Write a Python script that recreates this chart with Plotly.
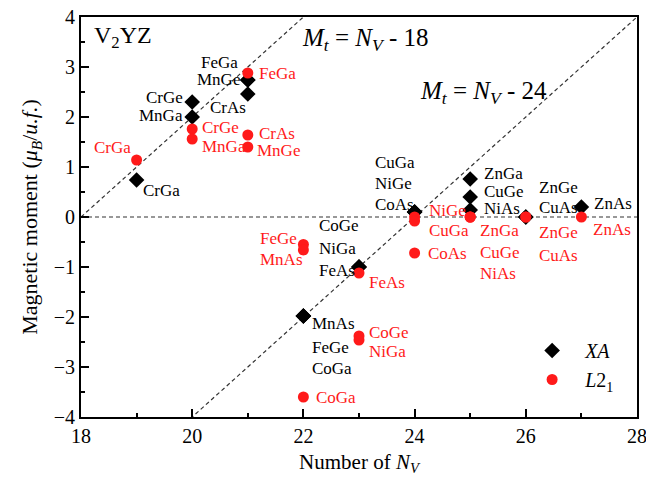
import plotly.graph_objects as go

# ---------------- data ----------------
# XA structure (black diamonds)
xa_compounds = ["CrGa", "CrGe", "MnGa", "FeGa", "MnGe", "CrAs",
                "MnAs", "FeGe", "CoGa", "CoGe", "NiGa", "FeAs",
                "CuGa", "NiGe", "CoAs", "ZnGa", "CuGe", "NiAs",
                "ZnGe", "CuAs", "ZnAs"]
xa_nv = [19, 20, 20, 21, 21, 21,
         22, 22, 22, 23, 23, 23,
         24, 24, 24, 25, 25, 25,
         26, 26, 27]
xa_mt = [0.74, 2.30, 2.00, 2.74, 2.74, 2.46,
         -1.98, -1.98, -1.98, -1.00, -1.00, -1.00,
         0.10, 0.10, 0.10, 0.76, 0.40, 0.14,
         0.00, 0.00, 0.20]

# L2_1 structure (red circles)
l21_compounds = ["CrGa", "CrGe", "MnGa", "FeGa", "CrAs", "MnGe",
                 "FeGe", "MnAs", "CoGa", "FeAs", "CoGe", "NiGa",
                 "NiGe", "CuGa", "CoAs", "ZnGa", "CuGe", "NiAs",
                 "ZnGe", "CuAs", "ZnAs"]
l21_nv = [19, 20, 20, 21, 21, 21,
          22, 22, 22, 23, 23, 23,
          24, 24, 24, 25, 25, 25,
          26, 26, 27]
l21_mt = [1.14, 1.76, 1.56, 2.88, 1.64, 1.40,
          -0.55, -0.66, -3.60, -1.12, -2.38, -2.46,
          0.00, -0.08, -0.72, 0.00, 0.00, 0.00,
          0.00, 0.00, 0.00]

# Slater-Pauling rules  Mt = Nv - offset
sp_offsets = [18, 24]
x_ticks = [18, 20, 22, 24, 26, 28]
y_ticks = [-4, -3, -2, -1, 0, 1, 2, 3, 4]

# ---------------- label placement (pixel offsets: xanchor, dx, dy-down) ----------------
xa_label_style = {
    "CrGa": ("left", 4, 10), "CrGe": ("right", -7, -5), "MnGa": ("right", -7, -2),
    "FeGa": ("right", -8, -18), "MnGe": ("right", -6, -1), "CrAs": ("right", 0, 13),
    "MnAs": ("left", 7, 7), "FeGe": ("left", 7, 31), "CoGa": ("left", 7, 52),
    "CoGe": ("left", -42, -42), "NiGa": ("left", -42, -19), "FeAs": ("left", -42, 3),
    "CuGa": ("left", -42, -50), "NiGe": ("left", -42, -29), "CoAs": ("left", -42, -8),
    "ZnGa": ("left", 12, -6), "CuGe": ("left", 12, -6), "NiAs": ("left", 12, -2),
    "ZnGe": ("left", 11, -30), "CuAs": ("left", 11, -10), "ZnAs": ("left", 11, -4),
}
l21_label_style = {
    "CrGa": ("right", -4, -13), "CrGe": ("left", 8, -2), "MnGa": ("left", 8, 7),
    "FeGa": ("left", 9, 0), "CrAs": ("left", 9, -2), "MnGe": ("left", 7, 3),
    "FeGe": ("left", -45, -6), "MnAs": ("left", -45, 9), "CoGa": ("left", 11, 0),
    "FeAs": ("left", 8, 9), "CoGe": ("left", 8, -4), "NiGa": ("left", 8, 11),
    "NiGe": ("left", 12, -7), "CuGa": ("left", 12, 9), "CoAs": ("left", 11, 0),
    "ZnGa": ("left", 8, 13), "CuGe": ("left", 8, 35), "NiAs": ("left", 8, 56),
    "ZnGe": ("left", 11, 15), "CuAs": ("left", 11, 38), "ZnAs": ("left", 10, 12),
}

FONT = "Liberation Serif"
RED = "#ff1a1a"

fig = go.Figure()

# reference lines
for off in sp_offsets:
    xs = [18, 28]
    fig.add_trace(go.Scatter(x=xs, y=[v - off for v in xs], mode="lines",
                             line=dict(color="#333333", width=1.2, dash="4px,3px"),
                             showlegend=False, hoverinfo="skip"))
fig.add_trace(go.Scatter(x=[18, 28], y=[0, 0], mode="lines",
                         line=dict(color="#333333", width=1.2, dash="4px,3px"),
                         showlegend=False, hoverinfo="skip"))

fig.add_trace(go.Scatter(x=xa_nv, y=xa_mt, mode="markers", name="<i>XA</i>",
                         marker=dict(symbol="diamond", size=12, color="black")))
fig.add_trace(go.Scatter(x=l21_nv, y=l21_mt, mode="markers", name="<i>L</i>2<sub>1</sub>",
                         marker=dict(symbol="circle", size=11, color=RED)))

annotations = []
for names, nvs, mts, style, col in [(xa_compounds, xa_nv, xa_mt, xa_label_style, "black"),
                                    (l21_compounds, l21_nv, l21_mt, l21_label_style, RED)]:
    for n, xv, yv in zip(names, nvs, mts):
        anc, dx, dy = style[n]
        annotations.append(dict(x=xv, y=yv, xref="x", yref="y", text=n, showarrow=False,
                                xanchor=anc, yanchor="middle", xshift=dx, yshift=-dy,
                                font=dict(family=FONT, size=17, color=col)))

annotations.append(dict(x=0.02, y=0.95, xref="paper", yref="paper", text="V<sub>2</sub>YZ",
                        showarrow=False, xanchor="left", yanchor="middle",
                        font=dict(family=FONT, size=24, color="black")))
annotations.append(dict(x=0.394, y=0.945, xref="paper", yref="paper",
                        text="<i>M</i><sub><i>t</i></sub> = <i>N</i><sub><i>V</i></sub> - 18",
                        showarrow=False, xanchor="left", yanchor="middle",
                        font=dict(family=FONT, size=25, color="black")))
annotations.append(dict(x=0.606, y=0.81, xref="paper", yref="paper",
                        text="<i>M</i><sub><i>t</i></sub> = <i>N</i><sub><i>V</i></sub> - 24",
                        showarrow=False, xanchor="left", yanchor="middle",
                        font=dict(family=FONT, size=25, color="black")))

axis_common = dict(showline=True, linecolor="black", linewidth=2, mirror=True,
                   ticks="inside", ticklen=8, tickwidth=1.5, tickcolor="black",
                   showgrid=False, zeroline=False, automargin=False,
                   ticklabeloverflow="allow",
                   tickfont=dict(family=FONT, size=20, color="black"))

fig.update_layout(
    width=654, height=498,
    margin=dict(l=73, r=25, t=9, b=89),
    paper_bgcolor="white", plot_bgcolor="white",
    xaxis=dict(range=[18, 28], tickvals=x_ticks,
               minor=dict(ticks="inside", ticklen=4, tickwidth=1.5, dtick=1, tickcolor="black"),
               title=dict(text="Number of <i>N</i><sub><i>V</i></sub>", standoff=8,
                          font=dict(family=FONT, size=21, color="black")),
               **axis_common),
    yaxis=dict(range=[-4, 4], tickvals=y_ticks,
               minor=dict(ticks="inside", ticklen=4, tickwidth=1.5, dtick=0.5, tickcolor="black"),
               title=dict(text="Magnetic moment (<i>μ</i><sub><i>B</i></sub>/<i>u.f.</i>)", standoff=10,
                          font=dict(family=FONT, size=22, color="black")),
               **axis_common),
    legend=dict(x=0.788, y=0.215, xanchor="left", yanchor="top", bgcolor="rgba(0,0,0,0)",
                font=dict(family=FONT, size=20, color="black"), itemwidth=56,
                tracegroupgap=4),
    annotations=annotations,
    showlegend=True,
)

fig.write_html("out.html")
